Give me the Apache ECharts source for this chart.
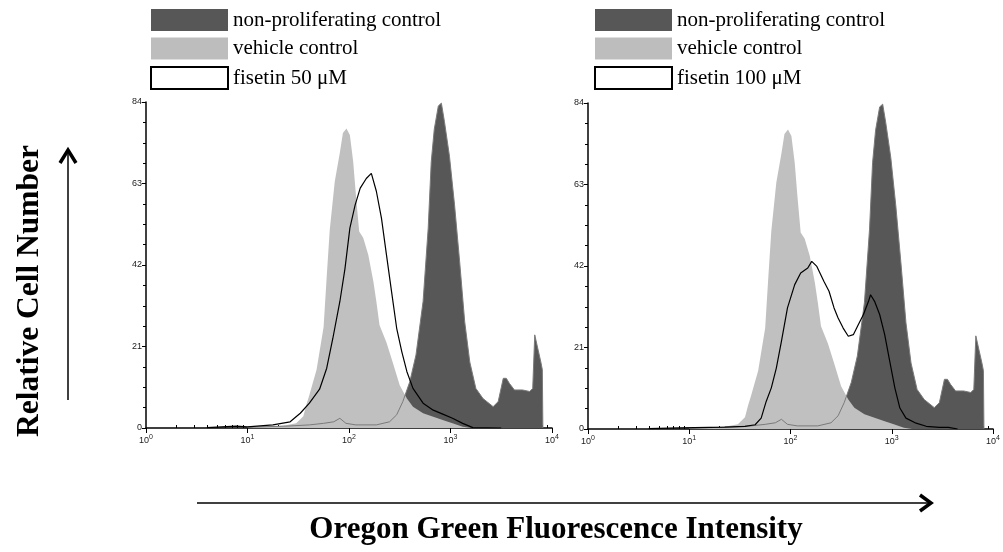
<!DOCTYPE html>
<html><head><meta charset="utf-8">
<script src="https://cdn.jsdelivr.net/npm/echarts@6/dist/echarts.min.js"></script>
<style>html,body{margin:0;padding:0;background:#fff}#c{width:1003px;height:552px}</style>
</head><body><div id="c"></div><script>
// ---- data (fluorescence intensity, relative cell count) ----
const nonProlifX = [10, 25.1, 40.7, 56.2, 70.8, 81.3, 93.3, 117, 186, 251, 295, 339, 398, 457, 537, 603, 646, 692, 759, 813, 871, 977, 1096, 1230, 1380, 1549, 1778, 2089, 2630, 2951, 3311, 3548, 3802, 4266, 5129, 6026, 6457, 6761, 7244, 7762, 8035, 8128];
const nonProlifY = [0.2, 0.5, 0.8, 1.2, 1.6, 2.5, 1.2, 0.8, 0.8, 1.6, 3.4, 6.8, 12, 18.8, 32.6, 51.5, 68.6, 77, 83, 83.7, 79, 70, 57.5, 42.9, 27.4, 17, 10.2, 7.6, 5.5, 6.8, 12.8, 12.8, 11.5, 9.8, 9.8, 9.4, 10.2, 24, 20.5, 17, 15, 0];

const vehicleX = [10, 15.8, 22.4, 30.2, 35.5, 38, 40.7, 47.9, 56.2, 60.3, 64.6, 72.4, 81.3, 87.1, 94.4, 102, 110, 117, 126, 138, 155, 174, 186, 200, 234, 269, 316, 372, 427, 537, 676, 851, 1047, 1318, 1585];
const vehicleY = [0.2, 0.3, 0.6, 1.2, 3, 6, 8.5, 15, 26, 39, 51, 63.5, 71, 76, 77.2, 75.5, 68.6, 60, 50.6, 49, 44.6, 37.7, 32.6, 26.5, 22, 17, 11, 7.6, 5.5, 3.8, 2.9, 2, 1.2, 0.3, 0];

const fisetin50X = [3.98, 7.76, 10, 17.8, 26.3, 33.1, 40.7, 51.3, 60.3, 69.2, 81.3, 91.2, 102, 115, 129, 148, 166, 186, 209, 234, 263, 295, 331, 372, 427, 537, 676, 851, 1047, 1318, 1660, 3162];
const fisetin50Y = [0.1, 0.5, 0.3, 0.8, 1.6, 3.8, 6.4, 10, 15.4, 23, 32.6, 41, 51.5, 57.5, 61.8, 64.3, 65.6, 61, 54, 44.6, 35, 25.7, 19.7, 14.5, 10.2, 6.4, 4.6, 3.5, 2.5, 1.2, 0.1, 0];

const fisetin100X = [3.98, 7.94, 22.4, 35.5, 44.7, 51.3, 57.5, 64.6, 72.4, 81.3, 93.3, 110, 126, 148, 162, 182, 214, 240, 269, 295, 331, 372, 417, 468, 525, 589, 617, 676, 759, 851, 955, 1072, 1202, 1380, 1738, 2188, 2951, 3631, 4467];
const fisetin100Y = [0.1, 0.3, 0.5, 0.7, 1.1, 2.8, 7.1, 10.6, 15.7, 22.6, 31.2, 37.2, 40.2, 41.5, 43.2, 41.9, 38, 35.5, 31.2, 28.6, 26, 23.9, 24.3, 26.9, 29.5, 32.9, 34.6, 32.9, 29.5, 24.3, 17.4, 10.6, 5.4, 2.8, 1.5, 0.7, 0.4, 0.4, 0];

const yTicks = [0, 21, 42, 63, 84];
const minorTickValues = [2,3,4,5,6,7,8,9,20,30,40,50,60,70,80,90,200,300,400,500,600,700,800,900,2000,3000,4000,5000,6000,7000,8000,9000];

const NAME_NP = 'non-proliferating control';
const NAME_VC = 'vehicle control';
const NAME_F50 = 'fisetin 50 \u03bcM';
const NAME_F100 = 'fisetin 100 \u03bcM';

const pairs = (xs, ys) => xs.map((x, i) => [x, ys[i]]);

const chart = echarts.init(document.getElementById('c'), null, {renderer: 'canvas'});

const grids = [
  {left: 146, right: 451, top: 102, bottom: 124},
  {left: 588, right: 5, top: 103, bottom: 123}
];

function majorX(gi) {
  return {
    type: 'log', logBase: 10, min: 1, max: 10000, gridIndex: gi,
    axisLine: {show: true, onZero: false, lineStyle: {color: '#000', width: 1.5}},
    axisTick: {show: true, length: 5, lineStyle: {color: '#000', width: 1}},
    splitLine: {show: false},
    axisLabel: {
      margin: 6,
      formatter: v => '{b|10}{s|' + Math.round(Math.log10(v)) + '}',
      rich: {
        b: {fontSize: 9, fontFamily: 'Liberation Sans, Arial', color: '#222'},
        s: {fontSize: 7, fontFamily: 'Liberation Sans, Arial', color: '#222', padding: [0, 0, 7, 0]}
      }
    }
  };
}
function minorX(gi) {
  return {
    type: 'log', logBase: 10, min: 1, max: 10000, gridIndex: gi,
    axisLine: {show: false},
    axisTick: {show: true, length: 3, customValues: minorTickValues, lineStyle: {color: '#000', width: 1}},
    axisLabel: {show: false},
    splitLine: {show: false}
  };
}
function yAx(gi) {
  return {
    type: 'value', min: 0, max: 84, interval: 21, gridIndex: gi,
    axisLine: {show: true, lineStyle: {color: '#000', width: 1.5}},
    axisTick: {show: true, length: 4, lineStyle: {color: '#000'}},
    minorTick: {show: true, splitNumber: 4, length: 3, lineStyle: {color: '#000'}},
    splitLine: {show: false},
    axisLabel: {margin: 4, fontSize: 9, fontFamily: 'Liberation Sans, Arial', color: '#222',
      customValues: yTicks}
  };
}

function panelSeries(xi, yi, fName, fX, fY) {
  return [
    {name: NAME_NP, type: 'line', xAxisIndex: xi, yAxisIndex: yi, data: pairs(nonProlifX, nonProlifY),
      showSymbol: false, symbol: 'none', lineStyle: {width: 0}, areaStyle: {color: '#575757', opacity: 1}, z: 1, silent: true},
    {name: NAME_VC, type: 'line', xAxisIndex: xi, yAxisIndex: yi, data: pairs(vehicleX, vehicleY),
      showSymbol: false, symbol: 'none', lineStyle: {width: 0}, areaStyle: {color: '#c0c0c0', opacity: 1}, z: 2, silent: true},
    {name: NAME_NP, type: 'line', xAxisIndex: xi, yAxisIndex: yi, data: pairs(nonProlifX, nonProlifY),
      showSymbol: false, symbol: 'none', lineStyle: {width: 1, color: '#7a7a7a'}, z: 3, silent: true},
    {name: fName, type: 'line', xAxisIndex: xi, yAxisIndex: yi, data: pairs(fX, fY),
      showSymbol: false, symbol: 'none', lineStyle: {width: 1.2, color: '#000'}, z: 4, silent: true}
  ];
}

function legend(left, fName) {
  return {
    left: left, top: 4, orient: 'vertical', selectedMode: false,
    itemWidth: 77, itemHeight: 22, itemGap: 6.5,
    textStyle: {fontFamily: 'Liberation Serif, Times New Roman', fontSize: 21, color: '#000'},
    data: [
      {name: NAME_NP, icon: 'rect', itemStyle: {color: '#575757', borderWidth: 0}},
      {name: NAME_VC, icon: 'rect', itemStyle: {color: '#bdbdbd', borderWidth: 0}},
      {name: fName, icon: 'rect', itemStyle: {color: '#fff', borderColor: '#000', borderWidth: 2}}
    ]
  };
}

const option = {
  animation: false,
  backgroundColor: '#fff',
  grid: grids,
  xAxis: [majorX(0), minorX(0), majorX(1), minorX(1)],
  yAxis: [yAx(0), yAx(1)],
  legend: [legend(145, NAME_F50), legend(589, NAME_F100)],
  series: [].concat(panelSeries(0, 0, NAME_F50, fisetin50X, fisetin50Y),
                    panelSeries(2, 1, NAME_F100, fisetin100X, fisetin100Y)),
  graphic: [
    {type: 'line', shape: {x1: 68, y1: 400, x2: 68, y2: 150}, style: {stroke: '#000', lineWidth: 1.5}},
    {type: 'polyline', shape: {points: [[60, 163], [68, 150], [76, 163]]}, style: {stroke: '#000', lineWidth: 3.5, fill: null}},
    {type: 'line', shape: {x1: 197, y1: 503, x2: 930, y2: 503}, style: {stroke: '#000', lineWidth: 1.5}},
    {type: 'polyline', shape: {points: [[920, 495], [931, 503], [920, 511]]}, style: {stroke: '#000', lineWidth: 3.5, fill: null}},
    {type: 'text', x: 30, y: 291, rotation: Math.PI / 2,
      style: {text: 'Relative Cell Number', font: 'bold 31.5px "Liberation Serif", "Times New Roman", serif', fill: '#000', textAlign: 'center', textVerticalAlign: 'middle'}},
    {type: 'text', x: 556, y: 530,
      style: {text: 'Oregon Green Fluorescence Intensity', font: 'bold 31px "Liberation Serif", "Times New Roman", serif', fill: '#000', textAlign: 'center', textVerticalAlign: 'middle'}}
  ]
};
chart.setOption(option);
</script></body></html>
